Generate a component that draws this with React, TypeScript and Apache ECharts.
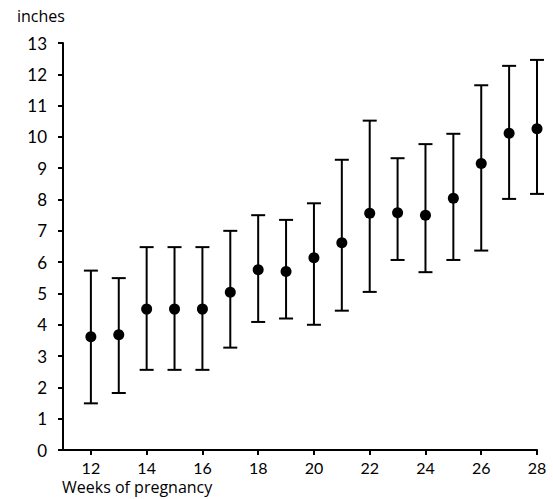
import React, { useEffect, useRef } from "react";
import * as echarts from "echarts";

const weeks = [12, 13, 14, 15, 16, 17, 18, 19, 20, 21, 22, 23, 24, 25, 26, 27, 28];
const means = [3.62, 3.68, 4.5, 4.5, 4.5, 5.04, 5.76, 5.7, 6.14, 6.62, 7.56, 7.58, 7.5, 8.04, 9.15, 10.12, 10.26];
const upper = [5.73, 5.49, 6.48, 6.48, 6.48, 7.0, 7.5, 7.35, 7.88, 9.27, 10.52, 9.32, 9.77, 10.1, 11.65, 12.27, 12.46];
const lower = [1.49, 1.82, 2.56, 2.56, 2.56, 3.27, 4.09, 4.2, 4.0, 4.45, 5.05, 6.07, 5.68, 6.07, 6.37, 8.02, 8.18];
const xTicks = [12, 14, 16, 18, 20, 22, 24, 26, 28];
const yLabel = "inches";
const xLabel = "Weeks of pregnancy";

const FONT = "Lato, 'Open Sans', sans-serif";
const FONT2 = "'Open Sans', Lato, sans-serif";

export default function App() {
  const ref = useRef<HTMLDivElement>(null);
  useEffect(() => {
    if (!ref.current) return;
    const chart = echarts.init(ref.current, null, { renderer: "svg" });
    const errData = weeks.map((w, i) => [w, lower[i], upper[i]]);
    const meanData = weeks.map((w, i) => [w, means[i]]);
    chart.setOption({
      animation: false,
      backgroundColor: "#fff",
      grid: { left: 63, right: 16, top: 43, bottom: 49, containLabel: false },
      xAxis: {
        type: "value",
        min: 11,
        max: 28,
        splitLine: { show: false },
        axisLine: { show: true, lineStyle: { color: "#000", width: 2 } },
        axisTick: { show: true, customValues: xTicks, length: 5, lineStyle: { color: "#000", width: 2 } },
        axisLabel: { customValues: xTicks, color: "#000", fontSize: 16, fontFamily: FONT, margin: 9 },
      },
      yAxis: {
        type: "value",
        min: 0,
        max: 13,
        interval: 1,
        splitLine: { show: false },
        axisLine: { show: true, lineStyle: { color: "#000", width: 2 } },
        axisTick: { show: true, length: 5, lineStyle: { color: "#000", width: 2 } },
        axisLabel: { color: "#000", fontSize: 17, fontFamily: FONT, margin: 16 },
      },
      graphic: [
        { type: "text", left: 17, top: 8, style: { text: yLabel, fontSize: 16, fontFamily: FONT2, fill: "#000" } },
        { type: "text", left: 62, top: 479, style: { text: xLabel, fontSize: 16, fontFamily: FONT2, fill: "#000" } },
      ],
      series: [
        {
          type: "custom",
          data: errData,
          renderItem: (params: any, api: any) => {
            const x = api.value(0);
            const lo = api.coord([x, api.value(1)]);
            const hi = api.coord([x, api.value(2)]);
            const hw = 7;
            const st = { stroke: "#000", lineWidth: 2 };
            return {
              type: "group",
              children: [
                { type: "line", shape: { x1: lo[0], y1: lo[1], x2: hi[0], y2: hi[1] }, style: st },
                { type: "line", shape: { x1: lo[0] - hw, y1: lo[1], x2: lo[0] + hw, y2: lo[1] }, style: st },
                { type: "line", shape: { x1: hi[0] - hw, y1: hi[1], x2: hi[0] + hw, y2: hi[1] }, style: st },
              ],
            };
          },
          z: 2,
        },
        {
          type: "scatter",
          data: meanData,
          symbol: "circle",
          symbolSize: 11,
          itemStyle: { color: "#000", opacity: 1 },
          z: 3,
        },
      ],
    });
    return () => chart.dispose();
  }, []);
  return <div ref={ref} style={{ width: 553, height: 499, position: "absolute", left: 0, top: 0 }} />;
}
